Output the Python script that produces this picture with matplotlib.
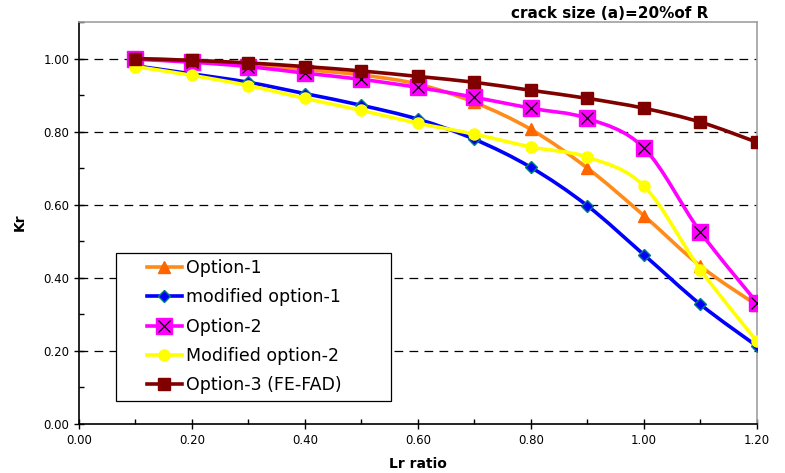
import numpy as np
import matplotlib
matplotlib.use('Agg')
import matplotlib.pyplot as plt
from matplotlib.path import Path
from matplotlib.patches import PathPatch, Rectangle
from matplotlib.lines import Line2D
from matplotlib.legend_handler import HandlerTuple
from matplotlib.ticker import MultipleLocator, FormatStrFormatter

plt.rcParams['font.family'] = ['DejaVu Sans']

# data
lr = [0.1, 0.2, 0.3, 0.4, 0.5, 0.6, 0.7, 0.8, 0.9, 1.0, 1.1, 1.2]
option1 = [1.00, 0.995, 0.985, 0.970, 0.955, 0.930, 0.880, 0.806, 0.700, 0.570, 0.432, 0.325]
mod_option1 = [0.980, 0.958, 0.935, 0.904, 0.872, 0.834, 0.779, 0.702, 0.597, 0.463, 0.327, 0.213]
option2 = [0.998, 0.990, 0.978, 0.960, 0.943, 0.921, 0.894, 0.864, 0.836, 0.755, 0.525, 0.332]
mod_option2 = [0.978, 0.954, 0.926, 0.891, 0.858, 0.823, 0.793, 0.758, 0.730, 0.651, 0.422, 0.226]
option3 = [1.000, 0.995, 0.988, 0.978, 0.966, 0.951, 0.935, 0.913, 0.891, 0.864, 0.826, 0.771]
labels = ['Option-1', 'modified option-1', 'Option-2', 'Modified option-2', 'Option-3 (FE-FAD)']


def smooth_path(x, y):
    # Excel-style smoothed line: cubic Bezier segments through the points
    x = np.asarray(x, float)
    y = np.asarray(y, float)
    n = len(x)
    verts = [(x[0], y[0])]
    codes = [Path.MOVETO]
    for i in range(n - 1):
        i0 = max(i - 1, 0)
        i3 = min(i + 2, n - 1)
        c1 = (x[i] + (x[i + 1] - x[i0]) / 6, y[i] + (y[i + 1] - y[i0]) / 6)
        c2 = (x[i + 1] - (x[i3] - x[i]) / 6, y[i + 1] - (y[i3] - y[i]) / 6)
        verts += [c1, c2, (x[i + 1], y[i + 1])]
        codes += [Path.CURVE4] * 3
    return Path(verts, codes)


fig = plt.figure(figsize=(7.85, 4.73), dpi=100)
ax = fig.add_axes([0.1006, 0.1036, 0.8637, 0.8499])

styles = [
    dict(color='#FF8C1A', marker='^', mfc='#FF6600', mec='#FF6600', ms=8),
    dict(color='#0000FF', marker='D', mfc='#0000FF', mec='#008080', ms=6),
    dict(color='#FF00FF', marker='s', mfc='#FF00FF', mec='#FF00FF', ms=11),
    dict(color='#FFFF00', marker='o', mfc='#FFFF00', mec='#FFFF00', ms=8),
    dict(color='#800000', marker='s', mfc='#800000', mec='#800000', ms=8),
]
series = [option1, mod_option1, option2, mod_option2, option3]

handles = []
for i, (vals, st) in enumerate(zip(series, styles)):
    z = 3 + i
    patch = PathPatch(smooth_path(lr, vals), facecolor='none', edgecolor=st['color'],
                      lw=2.6, zorder=z)
    ax.add_patch(patch)
    ax.plot(lr, vals, linestyle='none', marker=st['marker'], mfc=st['mfc'],
            mec=st['mec'], ms=st['ms'], mew=1, zorder=z)
    if i == 2:
        ax.plot(lr, vals, linestyle='none', marker='x', color='black', ms=9,
                mew=0.9, zorder=z)
    h = Line2D([], [], color=st['color'], lw=2.6, marker=st['marker'], mfc=st['mfc'],
               mec=st['mec'], ms=st['ms'])
    if i == 2:
        h = (h, Line2D([], [], linestyle='none', marker='x', color='black', ms=9, mew=0.9))
    handles.append(h)

ax.set_xlim(0, 1.2)
ax.set_ylim(0, 1.1)
ax.xaxis.set_major_locator(MultipleLocator(0.2))
ax.xaxis.set_minor_locator(MultipleLocator(0.1))
ax.yaxis.set_major_locator(MultipleLocator(0.2))
ax.yaxis.set_minor_locator(MultipleLocator(0.1))
ax.xaxis.set_major_formatter(FormatStrFormatter('%.2f'))
ax.yaxis.set_major_formatter(FormatStrFormatter('%.2f'))
ax.tick_params(which='major', direction='inout', length=7, width=1, labelsize=8.5, color='black')
ax.tick_params(which='minor', direction='in', length=3.5, width=1, color='black')

for yv in [0.2, 0.4, 0.6, 0.8, 1.0]:
    ax.axhline(yv, color='black', lw=0.9, dashes=(7, 5), zorder=1)

ax.spines['left'].set_color('black')
ax.spines['bottom'].set_color('black')
ax.spines['top'].set_color('#A0A0A0')
ax.spines['right'].set_color('#A0A0A0')
for s in ax.spines.values():
    s.set_linewidth(1.2)

ax.set_xlabel('Lr ratio', fontsize=10, fontweight='bold')
ax.xaxis.set_label_coords(0.5, -0.082)
ax.set_ylabel('Kr', fontsize=10, fontweight='bold')
ax.yaxis.set_label_coords(-0.077, 0.502)
fig.text(0.777, 0.9725, 'crack size (a)=20%of R', fontsize=11, fontweight='bold',
         ha='center', va='center')

# legend box drawn as its own rectangle, legend entries placed inside it
box = Rectangle((0.0546, 0.057), 0.4056, 0.368, transform=ax.transAxes,
                facecolor='white', edgecolor='black', lw=0.9, zorder=9)
ax.add_patch(box)
leg = ax.legend(handles, labels, loc='upper left', bbox_to_anchor=(0.1003, 0.41),
                fontsize=12.5, frameon=False, handlelength=2.0, handletextpad=0.25,
                borderaxespad=0, borderpad=0, labelspacing=0.65,
                handler_map={tuple: HandlerTuple(ndivide=1, pad=0)})
leg.set_zorder(10)

fig.savefig('out.png', dpi=100)
